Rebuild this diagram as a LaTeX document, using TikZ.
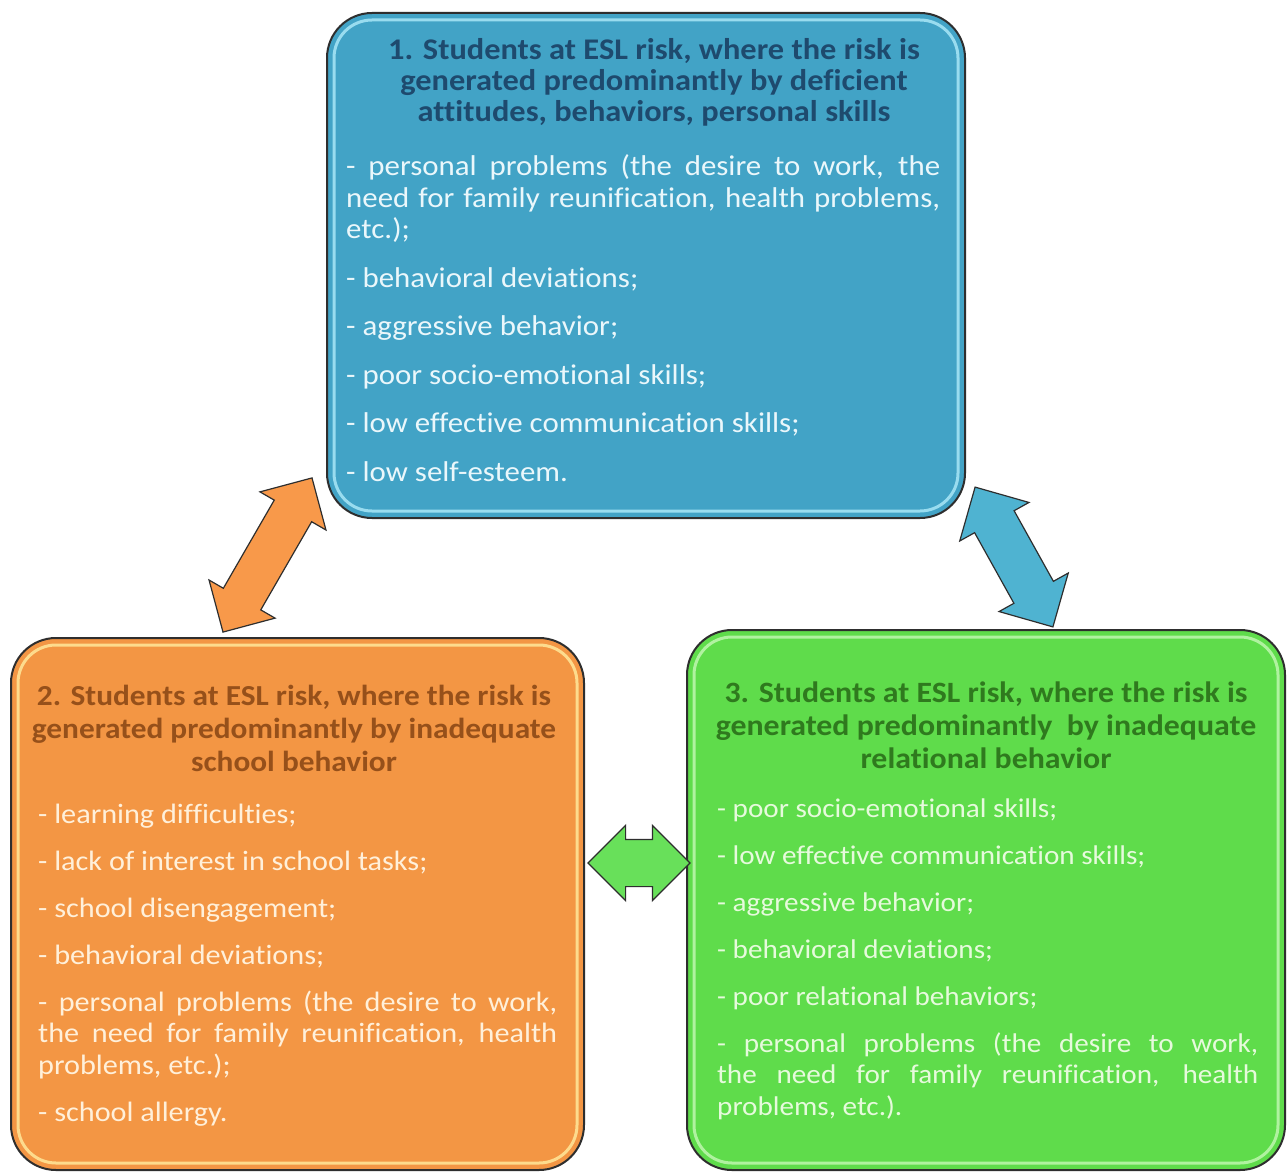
\documentclass[tikz,border=0pt]{standalone}
\usepackage{fontspec}
\setmainfont{Carlito}[FakeStretch=1.08, Ligatures=NoCommon]
\usetikzlibrary{shapes.arrows,calc}
\definecolor{c1fill}{HTML}{42A3C6}
\definecolor{c1title}{HTML}{1E4A6E}
\definecolor{c1text}{HTML}{EAF7FB}
\definecolor{c1hi}{HTML}{A9E6F7}
\definecolor{c2fill}{HTML}{F39644}
\definecolor{c2title}{HTML}{96501A}
\definecolor{c2text}{HTML}{FFF0DA}
\definecolor{c2hi}{HTML}{FFE89A}
\definecolor{c3fill}{HTML}{5FDC4B}
\definecolor{c3title}{HTML}{2F7A1E}
\definecolor{c3text}{HTML}{E6FADC}
\definecolor{c3hi}{HTML}{BFF7B0}
\definecolor{edge}{HTML}{2E2E2E}
\definecolor{a1fill}{HTML}{4FB3D1}
\definecolor{a2fill}{HTML}{F8994A}
\definecolor{a3fill}{HTML}{68E05A}
\hbadness=10000 \vbadness=10000 \hfuzz=8pt
\begin{document}
\begin{tikzpicture}[x=1pt,y=-1pt,
  boxshape/.style={draw=edge, line width=2pt, rounded corners=45pt, inner sep=0pt},
  hiline/.style={line width=3pt, rounded corners=38pt, opacity=0.85},
  titletext/.style={anchor=base, inner sep=0pt},
  bodytext/.style={anchor=base west, inner sep=0pt},
  blockarrow/.style={shape=double arrow, draw=edge, line width=1.2pt, inner xsep=0pt,
     double arrow tip angle=90, double arrow head indent=0pt},
]
\useasboundingbox (0,0) rectangle (1287,1174);
\fill[white] (0,0) rectangle (1287,1174);

% boxes
\node[boxshape, fill=c1fill, minimum width=638pt, minimum height=505pt] (box1) at (646,265.5) {};
\node[boxshape, fill=c2fill, minimum width=573pt, minimum height=532pt] (box2) at (297.5,904) {};
\node[boxshape, fill=c3fill, minimum width=598pt, minimum height=540pt] (box3) at (986,900) {};
\draw[hiline, c1hi] ($(box1.north west)+(8,8)$) rectangle ($(box1.south east)+(-8,-8)$);
\draw[hiline, c2hi] ($(box2.north west)+(8,8)$) rectangle ($(box2.south east)+(-8,-8)$);
\draw[hiline, c3hi] ($(box3.north west)+(8,8)$) rectangle ($(box3.south east)+(-8,-8)$);

% titles
\node[titletext, text=c1title] (t1) at (654,60) {\begin{minipage}[t]{620pt}\centering\fontsize{30}{31}\selectfont\bfseries
1. Students at ESL risk, where the risk is\\ generated predominantly by deficient\\ attitudes, behaviors, personal skills\end{minipage}};
\node[titletext, text=c2title] (t2) at (294,705) {\begin{minipage}[t]{560pt}\centering\fontsize{29}{33}\selectfont\bfseries
2. Students at ESL risk, where the risk is\\ generated predominantly by inadequate\\ school behavior\end{minipage}};
\node[titletext, text=c3title] (t3) at (986,702) {\begin{minipage}[t]{580pt}\centering\fontsize{29.5}{33}\selectfont\bfseries
3. Students at ESL risk, where the risk is\\ generated predominantly\ \ by inadequate\\ relational behavior\end{minipage}};

% bodies
\node[bodytext, text=c1text] (l1) at (346,176) {\begin{minipage}[t]{594pt}\fontsize{28.6}{31.5}\selectfont\setlength{\parskip}{17pt}
- personal problems (the desire to work, the\linebreak need for family reunification, health problems,\linebreak etc.);\par
- behavioral deviations;\par
- aggressive behavior;\par
- poor socio-emotional skills;\par
- low effective communication skills;\par
- low self-esteem.\end{minipage}};
\node[bodytext, text=c2text] (l2) at (38,823) {\begin{minipage}[t]{519pt}\fontsize{28}{31.5}\selectfont\setlength{\parskip}{15.5pt}
- learning difficulties;\par
- lack of interest in school tasks;\par
- school disengagement;\par
- behavioral deviations;\par
- personal problems (the desire to work,\linebreak the need for family reunification, health\linebreak problems, etc.);\par
- school allergy.\end{minipage}};
\node[bodytext, text=c3text] (l3) at (717,817) {\begin{minipage}[t]{541pt}\fontsize{27}{31.5}\selectfont\setlength{\parskip}{15.5pt}
- poor socio-emotional skills;\par
- low effective communication skills;\par
- aggressive behavior;\par
- behavioral deviations;\par
- poor relational behaviors;\par
- personal problems (the desire to work,\linebreak the need for family reunification, health\linebreak problems, etc.).\end{minipage}};

% block arrows
\node[blockarrow, fill=a2fill, inner ysep=21pt, minimum height=178pt, minimum width=75pt, double arrow head extend=16.5pt, rotate=60] (a12) at (267.5,555) {};
\node[blockarrow, fill=a1fill, inner ysep=22pt, minimum height=160pt, minimum width=78pt, double arrow head extend=17pt, rotate=-60.9] (a13) at (1014,557) {};
\node[blockarrow, fill=a3fill, inner ysep=23pt, minimum height=102pt, minimum width=74pt, double arrow head extend=14pt] (a23) at (639,863) {};
\end{tikzpicture}
\end{document}
